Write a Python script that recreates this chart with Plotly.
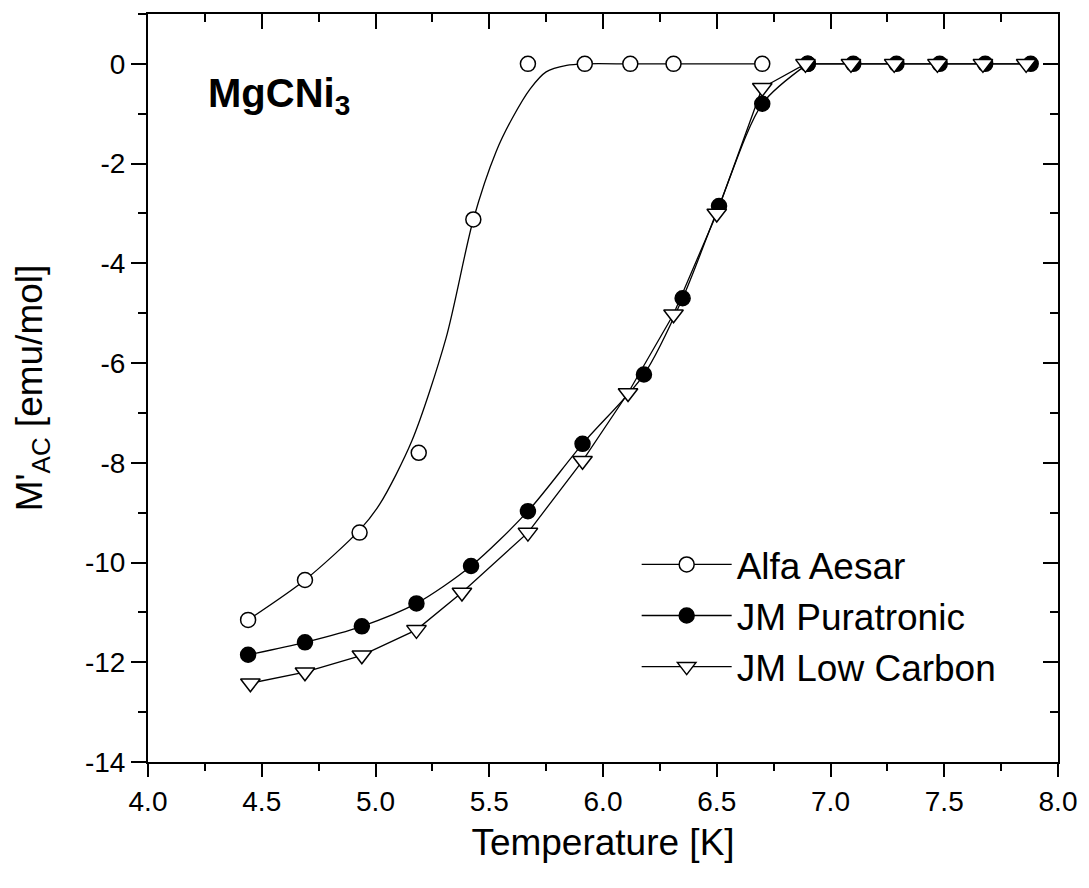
import plotly.graph_objects as go

# AC magnetisation of MgCNi3 samples vs temperature
alfa_t = [4.44, 4.69, 4.93, 5.19, 5.43, 5.67, 5.92, 6.12, 6.31, 6.70]
alfa_m = [-11.15, -10.35, -9.4, -7.8, -3.12, 0.0, 0.0, 0.0, 0.0, 0.0]

# smooth fit drawn through the Alfa Aesar data
alfa_fit_t = [4.44, 4.69, 4.93, 5.02, 5.16, 5.31, 5.43, 5.53, 5.60, 5.68, 5.75, 5.84, 5.92, 6.12, 6.31, 6.70]
alfa_fit_m = [-11.15, -10.35, -9.35, -8.82, -7.56, -5.5, -3.12, -1.76, -1.1, -0.5, -0.16, -0.03, 0.0, 0.0, 0.0, 0.0]

pura_t = [4.44, 4.69, 4.94, 5.18, 5.42, 5.67, 5.91, 6.18, 6.35, 6.51, 6.70, 6.90, 7.10, 7.29, 7.48, 7.68, 7.88]
pura_m = [-11.85, -11.6, -11.28, -10.82, -10.07, -8.97, -7.62, -6.23, -4.7, -2.85, -0.8, 0.0, 0.0, 0.0, 0.0, 0.0, 0.0]

lowc_t = [4.45, 4.69, 4.94, 5.18, 5.38, 5.67, 5.91, 6.11, 6.31, 6.50, 6.70, 6.89, 7.09, 7.28, 7.47, 7.67, 7.86]
lowc_m = [-12.42, -12.2, -11.86, -11.35, -10.6, -9.4, -7.96, -6.6, -5.02, -3.0, -0.48, 0.0, 0.0, 0.0, 0.0, 0.0, 0.0]

x_tickvals = [4.0, 4.5, 5.0, 5.5, 6.0, 6.5, 7.0, 7.5, 8.0]
x_ticktext = ["4.0", "4.5", "5.0", "5.5", "6.0", "6.5", "7.0", "7.5", "8.0"]
y_tickvals = [-14, -12, -10, -8, -6, -4, -2, 0]
y_ticktext = ["-14", "-12", "-10", "-8", "-6", "-4", "-2", "0"]

FONT = "Arial, Liberation Sans, sans-serif"
BLACK = "#000000"
LW = 1.3

open_circle = dict(symbol="circle", size=15, color="white", line=dict(color=BLACK, width=1.5))
filled_circle = dict(symbol="circle", size=15, color=BLACK, line=dict(color=BLACK, width=1.5))
open_tri = dict(symbol="triangle-down", size=17, color="white", line=dict(color=BLACK, width=1.5))

fig = go.Figure()

# Alfa Aesar: fit curve + data points
fig.add_trace(go.Scatter(x=alfa_fit_t, y=alfa_fit_m, mode="lines",
                         line=dict(color=BLACK, width=LW, shape="spline", smoothing=0.8),
                         showlegend=False, hoverinfo="skip"))
fig.add_trace(go.Scatter(x=alfa_t, y=alfa_m, mode="markers", marker=open_circle,
                         showlegend=False))
fig.add_trace(go.Scatter(x=[None], y=[None], mode="lines+markers", name="Alfa Aesar",
                         marker=open_circle, line=dict(color=BLACK, width=LW)))

# JM Puratronic: smooth through the transition, straight along the plateau
n_curve = 12
fig.add_trace(go.Scatter(x=pura_t[:n_curve], y=pura_m[:n_curve], mode="lines+markers",
                         name="JM Puratronic", marker=filled_circle,
                         line=dict(color=BLACK, width=LW, shape="spline", smoothing=0.8)))
fig.add_trace(go.Scatter(x=pura_t[n_curve - 1:], y=pura_m[n_curve - 1:], mode="lines+markers",
                         marker=filled_circle, line=dict(color=BLACK, width=LW),
                         showlegend=False))

# JM Low Carbon: straight segments
fig.add_trace(go.Scatter(x=lowc_t, y=lowc_m, mode="lines+markers", name="JM Low Carbon",
                         marker=open_tri, line=dict(color=BLACK, width=LW)))

# carrier for the mirrored top/right axes
fig.add_trace(go.Scatter(x=alfa_t[:1], y=alfa_m[:1], xaxis="x2", yaxis="y2", mode="markers",
                         marker=dict(opacity=0), showlegend=False, hoverinfo="skip"))

XR = [4.0, 8.0]
YR = [-14.0, 1.0]

fig.update_layout(
    width=1089, height=888,
    margin=dict(l=148, r=30, t=12, b=126),
    paper_bgcolor="white", plot_bgcolor="white",
    font=dict(family=FONT, color=BLACK, size=28),
    xaxis=dict(range=XR, tickvals=x_tickvals, ticktext=x_ticktext,
               showgrid=False, zeroline=False,
               showline=True, linecolor=BLACK, linewidth=2, mirror=True,
               ticks="outside", ticklen=13, tickwidth=2, tickcolor=BLACK,
               tickfont=dict(size=28),
               minor=dict(dtick=0.25, ticks="outside", ticklen=7, tickwidth=2, tickcolor=BLACK, showgrid=False),
               title=dict(text="Temperature [K]", font=dict(size=37), standoff=14)),
    yaxis=dict(range=YR, tickvals=y_tickvals, ticktext=y_ticktext,
               showgrid=False, zeroline=False,
               showline=True, linecolor=BLACK, linewidth=2, mirror=True,
               ticks="outside", ticklen=15, tickwidth=2, tickcolor=BLACK,
               tickfont=dict(size=28),
               minor=dict(dtick=1, ticks="outside", ticklen=8, tickwidth=2, tickcolor=BLACK, showgrid=False),
               title=dict(text="M'<sub>AC</sub> [emu/mol]", font=dict(size=37), standoff=31)),
    xaxis2=dict(range=XR, overlaying="x", side="top", anchor="y", tickvals=x_tickvals,
                showticklabels=False, showgrid=False, zeroline=False, showline=False,
                ticks="inside", ticklen=15, tickwidth=2, tickcolor=BLACK,
                minor=dict(dtick=0.25, ticks="inside", ticklen=8, tickwidth=2, tickcolor=BLACK, showgrid=False)),
    yaxis2=dict(range=YR, overlaying="y", side="right", anchor="x", tickvals=y_tickvals,
                showticklabels=False, showgrid=False, zeroline=False, showline=False,
                ticks="inside", ticklen=15, tickwidth=2, tickcolor=BLACK,
                minor=dict(dtick=1, ticks="inside", ticklen=8, tickwidth=2, tickcolor=BLACK, showgrid=False)),
    legend=dict(x=0.537, y=0.305, xanchor="left", yanchor="top",
                bgcolor="rgba(0,0,0,0)", borderwidth=0,
                font=dict(size=37), itemwidth=90, tracegroupgap=0),
    showlegend=True,
)

fig.add_annotation(text="<b>MgCNi<sub>3</sub></b>", xref="paper", yref="paper",
                   x=0.064, y=0.927, xanchor="left", yanchor="top", showarrow=False,
                   font=dict(size=40, family=FONT, color=BLACK))

fig.write_html("out.html")
